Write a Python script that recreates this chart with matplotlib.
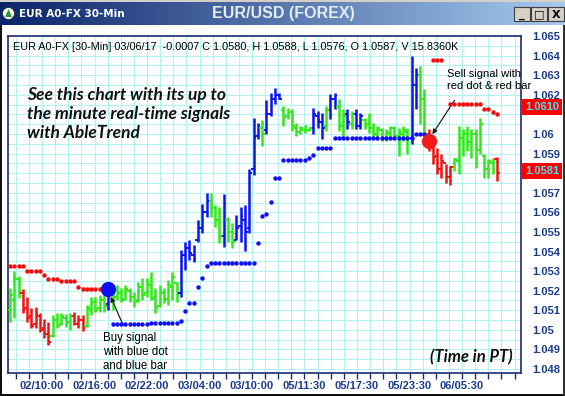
import numpy as np
import matplotlib
matplotlib.use('Agg')
import matplotlib.pyplot as plt
from matplotlib.patches import Rectangle, Circle, Polygon
import matplotlib.transforms as mtransforms

# ---------------- data (30-min EUR/USD bars) ----------------
highs = [1.05212, 1.05299, 1.05274, 1.05207, 1.05167, 1.05110, 1.05116, 1.05085, 1.05055, 1.05039,
         1.05075, 1.05085, 1.05085, 1.05080, 1.05085, 1.05090, 1.05075, 1.05075, 1.05126, 1.05167,
         1.05167, 1.05177, 1.05187, 1.05212, 1.05202, 1.05228, 1.05212, 1.05228, 1.05212, 1.05192,
         1.05243, 1.05263, 1.05263, 1.05294, 1.05212, 1.05228, 1.05212, 1.05253, 1.05294, 1.05243,
         1.05406, 1.05447, 1.05457, 1.05431, 1.05559, 1.05645, 1.05701, 1.05701, 1.05635, 1.05625,
         1.05696, 1.05574, 1.05543, 1.05584, 1.05625, 1.05635, 1.05823, 1.06083, 1.06057, 1.06073,
         1.06174, 1.06210, 1.06235, 1.06210, 1.06144, 1.06134, 1.06128, 1.06057, 1.06042, 1.06042,
         1.06032, 1.06134, 1.06118, 1.06108, 1.06144, 1.06205, 1.06210, 1.06179, 1.06128, 1.06128,
         1.06118, 1.06128, 1.06108, 1.06083, 1.06108, 1.06057, 1.06042, 1.06032, 1.06027, 1.06042,
         1.06042, 1.06032, 1.06042, 1.06032, 1.06398, 1.06337, 1.06347, 1.06230, 1.06027, 1.05966,
         1.05930, 1.05899, 1.05849, 1.05838, 1.05879, 1.06042, 1.06027, 1.06042, 1.06027, 1.06027,
         1.06083, 1.05899, 1.05874, 1.05879, 1.05880]
lows = [1.05039, 1.05060, 1.05162, 1.05085, 1.05039, 1.05009, 1.05009, 1.04989, 1.04958, 1.04922,
        1.04963, 1.05009, 1.05024, 1.05014, 1.04999, 1.05024, 1.05009, 1.04994, 1.05014, 1.05075,
        1.05090, 1.05090, 1.05090, 1.05100, 1.05100, 1.05151, 1.05141, 1.05151, 1.05141, 1.05116,
        1.05141, 1.05151, 1.05167, 1.05151, 1.05085, 1.05116, 1.05136, 1.05126, 1.05151, 1.05141,
        1.05167, 1.05304, 1.05355, 1.05345, 1.05447, 1.05497, 1.05574, 1.05574, 1.05523, 1.05441,
        1.05421, 1.05447, 1.05416, 1.05457, 1.05447, 1.05401, 1.05497, 1.05788, 1.05976, 1.05940,
        1.06001, 1.06093, 1.06154, 1.06179, 1.06042, 1.06078, 1.06017, 1.05991, 1.06001, 1.06006,
        1.06017, 1.06001, 1.06032, 1.05976, 1.06017, 1.06078, 1.06128, 1.06017, 1.05981, 1.06027,
        1.06027, 1.06027, 1.06027, 1.06027, 1.06006, 1.05976, 1.05981, 1.05966, 1.05966, 1.05981,
        1.05981, 1.05889, 1.05966, 1.05899, 1.05950, 1.06128, 1.06052, 1.05981, 1.05915, 1.05849,
        1.05798, 1.05777, 1.05752, 1.05737, 1.05813, 1.05798, 1.05889, 1.05915, 1.05879, 1.05828,
        1.05899, 1.05777, 1.05777, 1.05798, 1.05760]
opens = [1.0510, 1.0515, 1.0526, 1.0519, 1.0511, 1.0507, 1.0503, 1.0507, 1.0501, 1.0498,
         1.0497, 1.0505, 1.0503, 1.0506, 1.0504, 1.0507, 1.0503, 1.0505, 1.0502, 1.0510,
         1.0514, 1.0511, 1.0515, 1.0513, 1.0519, 1.0517, 1.0519, 1.0516, 1.0520, 1.0517,
         1.0515, 1.0522, 1.0519, 1.0523, 1.0517, 1.0512, 1.0519, 1.0516, 1.0522, 1.0524,
         1.0519, 1.0538, 1.0542, 1.0538, 1.0546, 1.0552, 1.0560, 1.0566, 1.0562, 1.0556,
         1.0548, 1.0556, 1.0550, 1.0546, 1.0553, 1.0556, 1.0552, 1.0582, 1.0599, 1.0603,
         1.0602, 1.0610, 1.0618, 1.0620, 1.0612, 1.0609, 1.0611, 1.0603, 1.0601, 1.0602,
         1.0602, 1.0603, 1.0609, 1.0606, 1.0604, 1.0612, 1.0618, 1.0614, 1.0604, 1.0610,
         1.0605, 1.0610, 1.0604, 1.0607, 1.0605, 1.0603, 1.0600, 1.0602, 1.0598, 1.0600,
         1.0603, 1.0599, 1.0600, 1.0601, 1.0598, 1.0625, 1.0630, 1.0618, 1.0600, 1.0593,
         1.0589, 1.0582, 1.0585, 1.0578, 1.0583, 1.0586, 1.0598, 1.0600, 1.0596, 1.0600,
         1.0592, 1.0589, 1.0582, 1.0585, 1.0587]
closes = [1.0518, 1.0526, 1.0520, 1.0510, 1.0506, 1.0502, 1.0508, 1.0500, 1.0498, 1.0494,
          1.0505, 1.0502, 1.0507, 1.0503, 1.0507, 1.0503, 1.0505, 1.0501, 1.0511, 1.0514,
          1.0510, 1.0516, 1.0512, 1.0519, 1.0512, 1.0520, 1.0515, 1.0521, 1.0516, 1.0514,
          1.0522, 1.0518, 1.0524, 1.0516, 1.0511, 1.0520, 1.0515, 1.0523, 1.0527, 1.0518,
          1.0538, 1.0542, 1.0539, 1.0536, 1.0552, 1.0560, 1.0566, 1.0564, 1.0556, 1.0548,
          1.0564, 1.0550, 1.0545, 1.0552, 1.0558, 1.0550, 1.0580, 1.0598, 1.0604, 1.0600,
          1.0610, 1.0618, 1.0620, 1.0618, 1.0608, 1.0611, 1.0604, 1.0601, 1.0603, 1.0604,
          1.0603, 1.0610, 1.0607, 1.0603, 1.0612, 1.0618, 1.0620, 1.0604, 1.0609, 1.0606,
          1.0610, 1.0604, 1.0609, 1.0604, 1.0609, 1.0600, 1.0603, 1.0598, 1.0601, 1.0603,
          1.0599, 1.0601, 1.0602, 1.0598, 1.0625, 1.0630, 1.0618, 1.0600, 1.0593, 1.0588,
          1.0582, 1.0586, 1.0578, 1.0583, 1.0587, 1.0598, 1.0601, 1.0596, 1.0600, 1.0592,
          1.0605, 1.0582, 1.0586, 1.0582, 1.0580]
# trend colour of each bar: G = neutral, R = down, B = up
trend = list("GGGRRRRRRR" "GGGGGRRRGG" "GGGBGGGGGG" "GGGGGGGGGG"
             "BBBBBBBGGG" "BGGBBBBBBG" "BBBBGGGGGG" "GBBBGBBGGB"
             "GBBGGGGGGG" "GGGGBBGGRR" "RRRRGGGGGG" "GGGGR")
sell_stop = [1.05325, 1.05325, 1.05325, 1.05325, 1.0530, 1.0530, 1.0530, 1.0530, 1.05278, 1.05258,
             1.05258, 1.05258, 1.0525, 1.0525, 1.0525, 1.0525, 1.05218, 1.05207, 1.05207, 1.05207,
             1.05207, 1.05207, 1.05207, None, None, None, None, None, None, None,
             None, None, None, None, None, None, None, None, None, None,
             None, None, None, None, None, None, None, None, None, None,
             None, None, None, None, None, None, None, None, None, None,
             None, None, None, None, None, None, None, None, None, None,
             None, None, None, None, None, None, None, None, None, None,
             None, None, None, None, None, None, None, None, None, None,
             None, None, None, None, None, None, None, None, None, 1.0638,
             1.0638, 1.0638, None, 1.06154, 1.06154, 1.06154, 1.06154, 1.06154, 1.06154, 1.06154,
             1.06154, 1.06128, 1.06128, 1.06113, 1.06103]
buy_stop = [None, None, None, None, None, None, None, None, None, None,
            None, None, None, None, None, None, None, None, None, None,
            None, None, None, None, 1.0503, 1.0503, 1.0503, 1.0503, 1.0503, 1.0503,
            1.0503, 1.0503, 1.0503, 1.05034, 1.05034, 1.05034, 1.05034, 1.05034, 1.05034, 1.05034,
            1.05044, 1.05095, 1.05136, 1.05136, 1.05218, 1.05263, 1.05324, 1.0534, 1.0534, 1.0534,
            1.0534, 1.0534, 1.0534, 1.0534, 1.0534, 1.0534, 1.0534, 1.0534, 1.05441, 1.05579,
            1.05589, 1.05655, 1.05777, 1.05777, 1.05869, 1.05869, 1.05869, 1.05869, 1.05869, 1.05869,
            1.05879, 1.05894, 1.0593, 1.0593, 1.0593, 1.0593, 1.05981, 1.05981, 1.05981, 1.05981,
            1.05981, 1.05981, 1.05981, 1.05981, 1.05981, 1.05981, 1.05981, 1.05981, 1.05981, 1.05981,
            1.05981, 1.05981, 1.05981, 1.05981, 1.05981, 1.0600, 1.0600, 1.0600, None, None,
            None, None, None, None, None, None, None, None, None, None,
            None, None, None, None, None]
buy_signal = (23, 1.05207)
sell_signal = (98, 1.05966)
x_labels = ["02/10:00", "02/16:00", "02/22:00", "03/04:00", "03/10:00",
            "05/11:30", "05/17:30", "05/23:30", "06/05:30"]
y_ticks = [1.065, 1.064, 1.063, 1.062, 1.060, 1.059, 1.057, 1.056, 1.055,
           1.054, 1.053, 1.052, 1.051, 1.050, 1.049, 1.048]
y_tick_labels = ["1.065", "1.064", "1.063", "1.062", "1.06", "1.059", "1.057", "1.056", "1.055",
                 "1.054", "1.053", "1.052", "1.051", "1.05", "1.049", "1.048"]
marked_levels = [(1.0614, "1.0610"), (1.0581, "1.0581")]
header = "EUR A0-FX [30-Min] 03/06/17  -0.0007 C 1.0580, H 1.0588, L 1.0576, O 1.0587, V 15.8360K"

# ---------------- figure ----------------
W, H = 565, 396
fig = plt.figure(figsize=(W / 100, H / 100), dpi=100)
fig.patch.set_facecolor('white')

def fx(px):
    return px / W

def fy(py):
    return 1 - py / H

# title bar
tax = fig.add_axes([0, fy(25), 1, 23 / H])
grad = np.linspace(0, 1, 256)[None, :]
c0 = np.array([0x0A, 0x24, 0x6A]) / 255
c1 = np.array([0xA6, 0xCA, 0xF0]) / 255
img = c0[None, None, :] * (1 - grad[..., None]) + c1[None, None, :] * grad[..., None]
tax.imshow(img, aspect='auto', extent=[0, W, 23, 0])
tax.set_xlim(0, W)
tax.set_ylim(23, 0)
tax.axis('off')
tax.add_patch(Circle((8.5, 11.5), 6, facecolor='white', edgecolor='#333333', lw=0.6))
tax.add_patch(Polygon([[5, 15], [12, 15], [8.5, 7]], closed=True, facecolor='#2a9a3a', edgecolor='none'))
tax.text(19, 12, "EUR A0-FX 30-Min", color='white', fontsize=7.5, fontweight='bold',
         family='DejaVu Sans', va='center', ha='left')
tax.text(283, 11.5, "EUR/USD (FOREX)", color='#e4ecf6', fontsize=11.5, fontweight='bold',
         family='Liberation Sans', va='center', ha='center')
for bx, sym in [(514, "_"), (531, "□"), (548, "X")]:
    tax.add_patch(Rectangle((bx, 5), 16, 14, facecolor='#d4d0c8', edgecolor='#404040', lw=0.8))
    tax.text(bx + 8, 12.5, sym, fontsize=8, fontweight='bold', color='black',
             ha='center', va='center', family='DejaVu Sans')

# main price axes
L, R, T, B = 8, 521, 36, 373
ax = fig.add_axes([fx(L), fy(B), (R - L) / W, (B - T) / H])
ax.set_facecolor('white')
n = len(highs)
xs = np.arange(n)
step = 4.272                       # pixels per bar
xmin = -2 / step
xmax = xmin + (R - L) / step
ax.set_xlim(xmin, xmax)
ymax = 1.065 - (T - 35) / 19.65 * 0.001
ymin = 1.065 - (B - 35) / 19.65 * 0.001
ax.set_ylim(ymin, ymax)

# grid
grid_c = '#b4f2f2'
label_pos0 = (42 - 10) / step
grid_step = 13.125 / step
gpos = label_pos0 + grid_step * np.arange(-3, 40)
gpos = gpos[(gpos > xmin) & (gpos < xmax)]
for g in gpos:
    ax.axvline(g, color=grid_c, lw=0.8, zorder=0)
for yv in np.arange(1.0480, 1.06501, 0.0005):
    ax.axhline(yv, color=grid_c, lw=0.8, zorder=0)

# OHLC bars
cmap = {'G': '#33e81a', 'R': '#f21212', 'B': '#0c12f0'}
cols = [cmap[t] for t in trend]
ax.vlines(xs, lows, highs, colors=cols, lw=1.8, zorder=3)
ax.hlines(opens, xs - 0.62, xs, colors=cols, lw=1.4, zorder=3)
ax.hlines(closes, xs, xs + 0.62, colors=cols, lw=1.4, zorder=3)

# stop dots
ss = np.array(sell_stop, dtype=float)
bs = np.array(buy_stop, dtype=float)
ax.plot(xs, ss, 'o', color='#f01010', ms=3.2, mec='none', zorder=4)
ax.plot(xs, bs, 'o', color='#1010f0', ms=3.2, mec='none', zorder=4)
ax.plot([buy_signal[0]], [buy_signal[1]], 'o', color='#0a10f0', ms=11, mec='none', zorder=5)
ax.plot([sell_signal[0]], [sell_signal[1]], 'o', color='#f21a1a', ms=11, mec='none', zorder=5)

# axes styling
for sp in ax.spines.values():
    sp.set_color('#1c2c70')
    sp.set_linewidth(1.2)
ax.yaxis.tick_right()
ax.set_yticks(y_ticks)
ax.set_yticklabels(y_tick_labels)
ax.tick_params(axis='y', length=0, pad=8, labelsize=8, labelcolor='#1a3c8c')
for lab in ax.get_yticklabels():
    lab.set_fontweight('bold')
    lab.set_family('Liberation Sans')
lpos = label_pos0 + 4 * grid_step * np.arange(len(x_labels))
ax.set_xticks(lpos)
ax.set_xticklabels(x_labels)
ax.set_xticks(gpos, minor=True)
ax.tick_params(axis='x', which='both', length=4, width=1, color='#1c2c70', direction='out')
ax.tick_params(axis='x', which='major', pad=2, labelsize=8, labelcolor='#1a3c8c')
for lab in ax.get_xticklabels():
    lab.set_fontweight('bold')
    lab.set_family('Liberation Sans')

# marked price levels on the right scale
blend = mtransforms.blended_transform_factory(fig.transFigure, ax.transData)
hbox = 16 / 19.65 * 0.001
for yv, txt in marked_levels:
    fig.add_artist(Rectangle((fx(522), yv - hbox / 2), fx(40), hbox, transform=blend,
                             facecolor='#ff0000', edgecolor='none', clip_on=False))
    fig.text(fx(542), yv, txt, transform=blend, color='#40e6f6', fontsize=8,
             fontweight='bold', family='Liberation Sans', ha='center', va='center')

# header and annotations
ax.text((13 - L) / (R - L), 1 - (47 - T) / (B - T), header, transform=ax.transAxes,
        fontsize=7.8, family='Liberation Sans', color='black', va='center', ha='left')
ax.text((27 - L) / (R - L), 1 - (114 - T) / (B - T),
        "See this chart with its up to\nthe minute real-time signals\nwith AbleTrend",
        transform=ax.transAxes, fontsize=12.5, family='Lato', fontweight='bold', style='italic',
        color='#111111', va='center', ha='left', linespacing=1.25)
ax.text((430 - L) / (R - L), 1 - (357 - T) / (B - T), "(Time in PT)", transform=ax.transAxes,
        fontsize=12, family='Lato', fontweight='bold', style='italic', color='#111111',
        va='center', ha='left')
ax.annotate("", xy=(sell_signal[0] + 0.5, sell_signal[1] + 0.0002),
            xytext=(456, H - 98), textcoords='figure pixels',
            arrowprops=dict(arrowstyle='-|>', color='#222222', lw=0.9, mutation_scale=7))
ax.annotate("", xy=(buy_signal[0] + 0.3, buy_signal[1] - 0.00025),
            xytext=(124, H - 327), textcoords='figure pixels',
            arrowprops=dict(arrowstyle='-|>', color='#222222', lw=0.9, mutation_scale=7))
fig.text(fx(447), fy(80), "Sell signal with\nred dot & red bar", fontsize=8.0,
         family='Liberation Sans', color='black', va='center', ha='left', linespacing=1.3)
fig.text(fx(103), fy(352), "Buy signal\nwith blue dot\nand blue bar", fontsize=8.3,
         family='Liberation Sans', color='black', va='center', ha='left', linespacing=1.25)

# window frame
fig.add_artist(Rectangle((0, 0), fx(1.5), fy(25), transform=fig.transFigure,
                         facecolor='#101010', edgecolor='none'))
fig.add_artist(Rectangle((0, 0), 1, 2.5 / H, transform=fig.transFigure,
                         facecolor='#101010', edgecolor='none'))
fig.add_artist(Rectangle((fx(563), 0), fx(2), fy(25), transform=fig.transFigure,
                         facecolor='#303030', edgecolor='none'))
fig.add_artist(Rectangle((0, fy(2)), 1, 2 / H, transform=fig.transFigure,
                         facecolor='#d4d0c8', edgecolor='none'))

fig.savefig('out.png', dpi=100, facecolor=fig.get_facecolor())
